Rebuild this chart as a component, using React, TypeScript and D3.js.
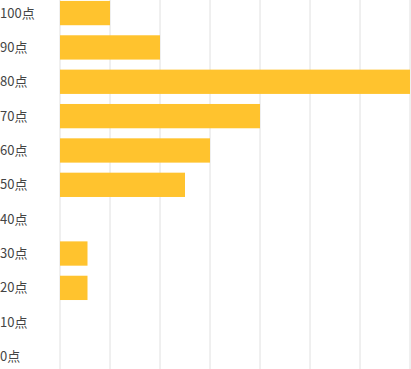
import React from "react";
import * as d3 from "d3";

const categories = ["100点", "90点", "80点", "70点", "60点", "50点", "40点", "30点", "20点", "10点", "0点"];
const values = [1, 2, 7, 4, 3, 2.5, 0, 0.55, 0.55, 0, 0];
const xTicks = [0, 1, 2, 3, 4, 5, 6, 7];

const W = 411;
const H = 369;

export default function App() {
  const x = d3.scaleLinear().domain([0, 7]).range([60, 410]);
  const step = 34.35;
  const r0 = -4.1;
  const y = d3
    .scaleBand<string>()
    .domain(categories)
    .range([r0, r0 + step * categories.length])
    .paddingInner(0.2926)
    .paddingOuter(0.1463);

  return (
    <svg
      width={W}
      height={H}
      style={{ position: "absolute", left: 0, top: 0, background: "#fff" }}
    >
      {xTicks.map((t) => (
        <line
          key={t}
          x1={x(t)}
          x2={x(t)}
          y1={0}
          y2={H}
          stroke="#e0e0e0"
          strokeWidth={1}
        />
      ))}
      {categories.map((c, i) => (
        <rect
          key={c}
          x={x(0)}
          y={y(c)}
          width={x(values[i]) - x(0)}
          height={y.bandwidth()}
          fill="#FFC32E"
        />
      ))}
      {categories.map((c) => (
        <text
          key={c}
          x={0}
          y={(y(c) as number) + y.bandwidth() / 2}
          dy="0.35em"
          fontFamily="'Noto Sans CJK JP', 'Noto Sans', sans-serif"
          fontSize={13}
          fill="#444"
        >
          {c}
        </text>
      ))}
    </svg>
  );
}
